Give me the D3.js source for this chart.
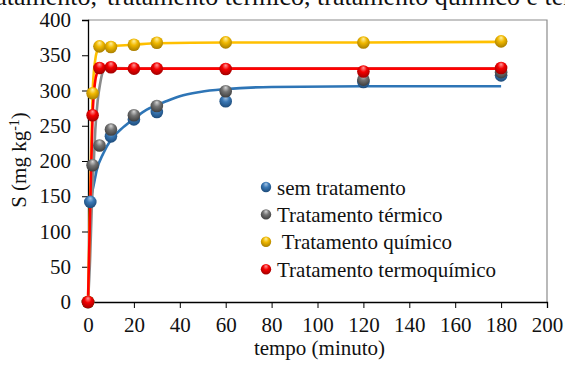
<!DOCTYPE html>
<html>
<head>
<meta charset="utf-8">
<script src="https://cdn.jsdelivr.net/npm/d3@7"></script>
<style>
  body { margin: 0; background: #fff; }
  svg { display: block; }
  svg text { font-family: "Liberation Serif", "Times New Roman", serif; fill: #111; }
  .axis path, .axis line { stroke: #000; }
</style>
</head>
<body>
<svg id="chart" width="565" height="365"></svg>
<script>
// tempo (minuto) of the measured points
var tempo = [0, 2, 5, 10, 20, 30, 60, 120, 180],
    tempoSem = [0, 1, 10, 20, 30, 60, 120, 180];

// measured S (mg kg-1)
var semTratamento = [0, 142, 235, 259, 269.5, 284.7, 312, 321.5],
    termico = [0, 194, 222, 244.6, 265, 278, 299, 315.4, 326],
    quimico = [0, 296, 362.6, 361.6, 365, 367.8, 368.3, 368, 369.7],
    termoquimico = [0, 265, 332, 333, 331, 331, 330.5, 327, 332];

// fitted curves
var semFitT = [1, 2.3, 3.8, 6.7, 10, 15.4, 20, 25.6, 30, 34.3, 40, 48.8, 60, 80, 120, 180],
    semFitS = [145, 163, 187, 211, 230, 248, 260, 273, 279, 285, 292, 298, 302, 305, 306, 306];
var termFitT = [0, 0.9, 1.6, 2.4, 3.2, 4.2, 5.3, 6.2, 7.6, 10, 30, 180],
    termFitS = [0, 60, 130, 190, 245, 285, 310, 324, 331, 332, 331, 331];
var quimFitT = [0, 1, 2, 3, 4, 5, 10, 20, 30, 60, 120, 180],
    quimFitS = [0, 160, 296, 340, 357, 362, 363, 365, 367, 368, 368, 369];
var tqFitT = [0, 1, 2, 3, 4, 5, 10, 180],
    tqFitS = [0, 140, 265, 310, 326, 331, 331, 331];

var xTicks = d3.range(0, 201, 20),
    yTicks = d3.range(0, 401, 50);

var serif = '"Liberation Serif", "Times New Roman", serif';

var svg = d3.select("#chart"),
    margin = { top: 20, right: 18, bottom: 63, left: 88 },
    width = +svg.attr("width") - margin.left - margin.right,
    height = +svg.attr("height") - margin.top - margin.bottom;

var x = d3.scaleLinear().domain([0, 200]).range([margin.left, margin.left + width]),
    y = d3.scaleLinear().domain([0, 400]).range([margin.top + height, margin.top]);

// cut-off caption at the very top
svg.append("text").attr("x", 97).attr("y", 5).attr("text-anchor", "end")
    .style("font-size", "26px").text("sem tratamento,");
svg.append("text").attr("x", 107).attr("y", 5)
    .style("font-size", "26px").text("tratamento térmico, tratamento químico e termoquímico");

var series = [
  { name: "sem tratamento", t: tempoSem, s: semTratamento, ft: semFitT, fs: semFitS,
    line: "#2e75b6", c: ["#a9c7e6", "#3a78b5", "#1d4b7a"] },
  { name: "Tratamento térmico", t: tempo, s: termico, ft: termFitT, fs: termFitS,
    line: "#8a8a8a", c: ["#d6d6d6", "#747474", "#3e3e3e"] },
  { name: " Tratamento químico", t: tempo, s: quimico, ft: quimFitT, fs: quimFitS,
    line: "#ffc000", c: ["#fff0a0", "#f0b800", "#a87e00"] },
  { name: "Tratamento termoquímico", t: tempo, s: termoquimico, ft: tqFitT, fs: tqFitS,
    line: "#ff0000", c: ["#ff9a9a", "#f40000", "#a00000"] }
];

var defs = svg.append("defs");
series.forEach(function (d, i) {
  var g = defs.append("radialGradient").attr("id", "ball" + i)
      .attr("cx", "50%").attr("cy", "40%").attr("r", "60%")
      .attr("fx", "50%").attr("fy", "20%");
  g.append("stop").attr("offset", "0%").attr("stop-color", d.c[0]);
  g.append("stop").attr("offset", "45%").attr("stop-color", d.c[1]);
  g.append("stop").attr("offset", "100%").attr("stop-color", d.c[2]);
});

// frame: top and right in grey
svg.append("path")
    .attr("d", "M" + x(0) + "," + y(400) + "H" + x(200) + "V" + y(0))
    .attr("fill", "none").attr("stroke", "#8c8c8c").attr("stroke-width", 1.2);

var xAxis = d3.axisBottom(x).tickValues(xTicks).tickSizeOuter(0).tickSize(6).tickPadding(9),
    yAxis = d3.axisLeft(y).tickValues(yTicks).tickSizeOuter(0).tickSize(6).tickPadding(11);

svg.append("g").attr("class", "axis")
    .attr("transform", "translate(0," + y(0) + ")")
    .call(xAxis);
svg.append("g").attr("class", "axis")
    .attr("transform", "translate(" + x(0) + ",0)")
    .call(yAxis);
svg.selectAll(".axis").attr("font-family", serif).attr("font-size", 21);
svg.selectAll(".axis text").style("font-family", serif).style("font-size", "21px");
svg.selectAll(".axis .domain").attr("stroke-width", 1.3);

var line = d3.line()
    .curve(d3.curveMonotoneX)
    .x(function (d) { return x(d[0]); })
    .y(function (d) { return y(d[1]); });

series.forEach(function (d) {
  svg.append("path")
      .datum(d3.zip(d.ft, d.fs))
      .attr("fill", "none")
      .attr("stroke", d.line)
      .attr("stroke-width", 2.6)
      .attr("d", line);
});

series.forEach(function (d, i) {
  svg.append("g").selectAll("circle")
      .data(d3.zip(d.t, d.s))
      .enter().append("circle")
      .attr("cx", function (p) { return x(p[0]); })
      .attr("cy", function (p) { return y(p[1]); })
      .attr("r", 6.3)
      .attr("fill", "url(#ball" + i + ")");
});

// legend
var legend = svg.append("g").attr("transform", "translate(266,187)");
series.forEach(function (d, i) {
  var row = legend.append("g").attr("transform", "translate(0," + (i * 27.4) + ")");
  row.append("circle").attr("r", 5.2).attr("fill", "url(#ball" + i + ")");
  row.append("text").attr("x", 11).attr("y", 7.5)
      .style("font-size", "21px").style("white-space", "pre")
      .text(d.name);
});

// axis titles
svg.append("text")
    .attr("x", (x(0) + x(200)) / 2 + 2).attr("y", 355)
    .attr("text-anchor", "middle").style("font-size", "21px")
    .text("tempo (minuto)");

var yt = svg.append("text")
    .attr("transform", "translate(26,160) rotate(-90)")
    .attr("text-anchor", "middle").style("font-size", "21px");
yt.append("tspan").text("S (mg kg");
yt.append("tspan").attr("baseline-shift", "super").style("font-size", "14px").text("-1");
yt.append("tspan").text(")");
</script>
</body>
</html>
